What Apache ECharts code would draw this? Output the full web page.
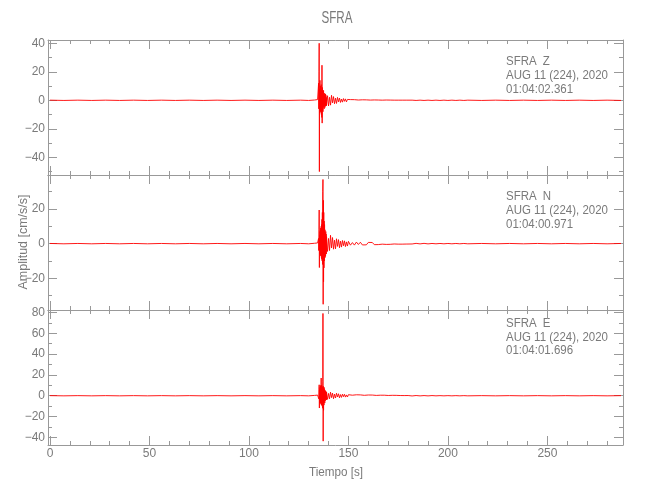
<!DOCTYPE html>
<html><head><meta charset="utf-8">
<script src="https://cdn.jsdelivr.net/npm/echarts@6/dist/echarts.min.js"></script>
<style>html,body{margin:0;padding:0;background:#fff}#c{width:650px;height:500px}</style>
</head><body><div id="c"></div>
<script>
// ---- time samples (s) ----
const timeSec = [
  0,7,14,21,28,35,42,49,56,63,70,77,84,91,98,105,112,119,126,130,133,134,134.5,
  135,135.1,135.2,135.3,135.4,135.5,135.6,135.7,135.8,135.9,136,136.1,136.2,136.3,136.4,136.5,136.6,136.7,136.8,136.9,
  137,137.1,137.2,137.3,137.4,137.5,137.6,137.7,137.8,137.9,138,138.1,138.2,138.3,138.4,138.5,138.6,138.7,138.8,138.9,139,
  139.5,140,140.5,141,141.5,142,142.5,143,143.5,144,144.5,145,145.5,146,146.5,147,147.5,148,148.5,149,149.5,150,
  151,152,153,154,155,156,157,158,159,160,161,162,163,164,165,166,167,168,169,170,171,172,173,174,175,176,177,178,179,180,
  182,184,186,188,190,192,194,196,198,200,202,204,206,208,210,
  217,224,231,238,245,252,259,266,273,280,287
];
// ---- acceleration (cm/s/s) ----
const accelZ = [
  0.1,-0.1,0.1,-0.1,0.1,-0.1,0.1,-0.1,0.1,-0.1,0.1,-0.1,0.1,-0.1,0.1,-0.1,0.1,-0.1,0.1,-0.1,0.2,-0.3,0.5,
  12,-6,20,40,-50,8,-9,14,-7,10,-8,9,-6,11,-10,7,-12,24.6,-16,9,
  -7,5,-8,6,-4,7,-5,3,-6,5,-3,4,-5,2.5,-4,4.5,-2,3.5,-4,2,-3.5,
  3.2,-4,2.1,-3.4,3.5,-1.8,2.6,-2.4,1.5,-2.2,2,-1.1,1.6,-1.5,0.9,-1.3,1.2,-0.7,1,-1.1,0.6,-0.8,
  0.5,-0.3,0.45,-0.5,0.2,-0.4,0.35,-0.2,0.3,-0.35,0.15,-0.3,0.25,-0.15,0.2,-0.25,0.1,-0.2,0.2,-0.1,0.15,-0.15,0.1,-0.15,0.1,-0.1,0.1,-0.1,0.1,-0.1,
  0.1,-0.1,0.1,-0.1,0.1,-0.1,0.1,-0.1,0.1,-0.1,0.1,-0.1,0.1,-0.1,0.1,
  -0.1,0.1,-0.1,0.1,-0.1,0.1,-0.1,0.1,-0.1,0.1,-0.1
];
const accelN = [
  0.1,-0.1,0.1,-0.1,0.1,-0.1,0.1,-0.1,0.1,-0.1,0.1,-0.1,0.1,-0.1,0.1,-0.1,0.1,-0.1,0.1,-0.1,0.2,-0.3,0.4,
  3,-4,8,19.4,-13.8,5,-6,7,-5,8,-7,9,-6,10,-8,11,-9,14,-10,18,
  -12,30,37,-35,25,-22,18,-14,13,-10,11,-7,8,-8,6,-7,7,-4,5.5,-6,4,
  -4.5,3,-4,4.8,-2.5,3.5,-3.2,2,-3,2.8,-1.6,2.3,-2.4,1.4,-2,1.8,-1.2,1.6,-1.7,1,-1.4,1.3,
  -0.9,0.6,-0.85,0.9,-0.5,0.8,-0.75,0.4,-0.7,0.7,-0.4,0.65,-0.6,0.3,-0.55,0.5,-0.3,0.5,-0.45,0.25,-0.4,0.4,-0.2,0.35,-0.3,0.2,-0.3,0.15,-0.25,0.2,
  -0.2,0.15,-0.15,0.15,-0.15,0.1,-0.1,0.1,-0.1,0.1,-0.1,0.1,-0.1,0.1,-0.1,
  0.1,-0.1,0.1,-0.1,0.1,-0.1,0.1,-0.1,0.1,-0.1,0.1
];
const accelE = [
  0.1,-0.1,0.1,-0.1,0.1,-0.1,0.1,-0.1,0.1,-0.1,0.1,-0.1,0.1,-0.1,0.1,-0.1,0.1,-0.1,0.1,-0.1,0.3,-0.4,0.6,
  2,-3,6,10.5,-11.8,6,-7,8,-6,9,-7,10,-8,17,-9,10,-8,9,-10,8,
  -12,14,79,-43.6,9,-14,6,-9,8,-5,6,-7,3,-5,5,-3,4.5,-4,2.5,-4,3.5,
  -3.5,2.2,-3,3.4,-1.8,2.5,-2.9,1.6,-2.2,2.4,-1.2,1.9,-2,1.1,-1.6,1.5,-0.9,1.4,-1.3,0.8,-1.2,1,
  -0.9,0.5,-0.85,0.9,-0.45,0.8,-0.75,0.4,-0.7,0.7,-0.35,0.65,-0.6,0.3,-0.55,0.5,-0.3,0.5,-0.45,0.25,-0.4,0.4,-0.2,0.35,-0.3,0.2,-0.3,0.15,-0.25,0.2,
  -0.2,0.2,-0.15,0.15,-0.15,0.15,-0.1,0.1,-0.1,0.1,-0.1,0.1,-0.1,0.1,-0.1,
  0.1,-0.1,0.1,-0.1,0.1,-0.1,0.1,-0.1,0.1,-0.1,0.1
];
// ---- axis ticks / labels ----
const xRange = [-1, 288];
const xLabels = [0,50,100,150,200,250];
const xMinor = [10,20,30,40,60,70,80,90,110,120,130,140,160,170,180,190,210,220,230,240,260,270,280];
const yRangeZ = [-52.4, 42.3], yMajorZ = [-40,-20,0,20,40], yMinorZ = [-50,-30,-10,10,30];
const yRangeN = [-38.3, 39.6], yMajorN = [-20,0,20], yMinorN = [-30,-10,10,30];
const yRangeE = [-47.3, 82.3], yMajorE = [-40,-20,0,20,40,60,80], yMinorE = [-30,-10,10,30,50,70];
const stationName = 'SFRA';
const compNames = ['Z','N','E'];
const dateText = 'AUG 11 (224), 2020';
const startTimes = ['01:04:02.361','01:04:00.971','01:04:01.696'];

const FONT = "'Liberation Sans', Arial, sans-serif";
const AX = '#999', TX = '#7a7a7a';
const fmt = v => String(v).replace('-', '\u2212');
const mctx = document.createElement('canvas').getContext('2d');
const fitScale = (t, size, w) => { mctx.font = size + 'px ' + FONT; return w / mctx.measureText(t).width; };
const annScale = fitScale(dateText, 12.5, 102);

const panels = [
  {vals: accelZ, range: yRangeZ, major: yMajorZ, minor: yMinorZ, top: 40, h: 135, ann: 61.7},
  {vals: accelN, range: yRangeN, major: yMajorN, minor: yMinorN, top: 175, h: 135, ann: 196.7},
  {vals: accelE, range: yRangeE, major: yMajorE, minor: yMinorE, top: 310, h: 135, ann: 323.3}
];
const grid = [], xAxis = [], yAxis = [], series = [], graphic = [];
const txt = (t, x, y, size, sx, align, rot) => ({type: 'text', x: x, y: y, rotation: rot || 0,
  scaleX: sx,
  style: {text: t, fill: TX, font: size + 'px ' + FONT, textAlign: align, textVerticalAlign: 'middle', align: align, verticalAlign: 'middle'}});
panels.forEach((p, i) => {
  grid.push({left: 48, top: p.top, width: 575, height: p.h});
  const xb = xAxis.length, yb = yAxis.length;
  const mkX = (pos, ticks, len, line, labels) => ({
    type: 'value', gridIndex: i, position: pos, min: xRange[0], max: xRange[1],
    axisLine: {show: line, onZero: false, lineStyle: {color: AX, width: 1}},
    axisTick: {show: true, inside: true, length: len, customValues: ticks, lineStyle: {color: AX, width: 1}},
    axisLabel: {show: labels, customValues: xLabels, margin: 3, color: TX, fontFamily: FONT, fontSize: 12, formatter: fmt},
    splitLine: {show: false}
  });
  xAxis.push(mkX('bottom', xLabels, 9, true, i === 2));
  xAxis.push(mkX('bottom', xMinor, 4, false, false));
  xAxis.push(mkX('top', xLabels, 9, true, false));
  xAxis.push(mkX('top', xMinor, 4, false, false));
  const mkY = (pos, ticks, len, line, labels) => ({
    type: 'value', gridIndex: i, position: pos, min: p.range[0], max: p.range[1],
    axisLine: {show: line, onZero: false, lineStyle: {color: AX, width: 1}},
    axisTick: {show: true, inside: true, length: len, customValues: ticks, lineStyle: {color: AX, width: 1}},
    axisLabel: {show: labels, customValues: p.major, margin: 3, color: TX, fontFamily: FONT, fontSize: 12, formatter: fmt},
    splitLine: {show: false}
  });
  yAxis.push(mkY('left', p.major, 9, true, true));
  yAxis.push(mkY('left', p.minor, 4, false, false));
  yAxis.push(mkY('right', p.major, 9, true, false));
  yAxis.push(mkY('right', p.minor, 4, false, false));
  series.push({
    type: 'line', xAxisIndex: xb, yAxisIndex: yb,
    data: timeSec.map((t, k) => [t, p.vals[k]]),
    showSymbol: false, symbol: 'none', silent: true, animation: false,
    lineStyle: {color: '#ff0000', width: 0.9}
  });
  graphic.push(txt(stationName, 506, p.ann, 12.5, annScale, 'left'));
  graphic.push(txt(compNames[i], 542.7, p.ann, 12.5, annScale, 'left'));
  graphic.push(txt(dateText, 506, p.ann + 14, 12.5, annScale, 'left'));
  graphic.push(txt(startTimes[i], 506, p.ann + 27.5, 12.5, annScale, 'left'));
});
graphic.push(txt(stationName, 337, 18, 17, fitScale(stationName, 17, 31), 'center'));
graphic.push(txt('Tiempo [s]', 336, 472, 13, fitScale('Tiempo [s]', 13, 54), 'center'));
graphic.push(txt('Amplitud [cm/s/s]', 23, 242, 13, fitScale('Amplitud [cm/s/s]', 13, 95), 'center', Math.PI / 2));

const chart = echarts.init(document.getElementById('c'), null, {renderer: 'canvas'});
chart.setOption({animation: false, backgroundColor: '#fff', grid, xAxis, yAxis, series, graphic});
</script></body></html>
